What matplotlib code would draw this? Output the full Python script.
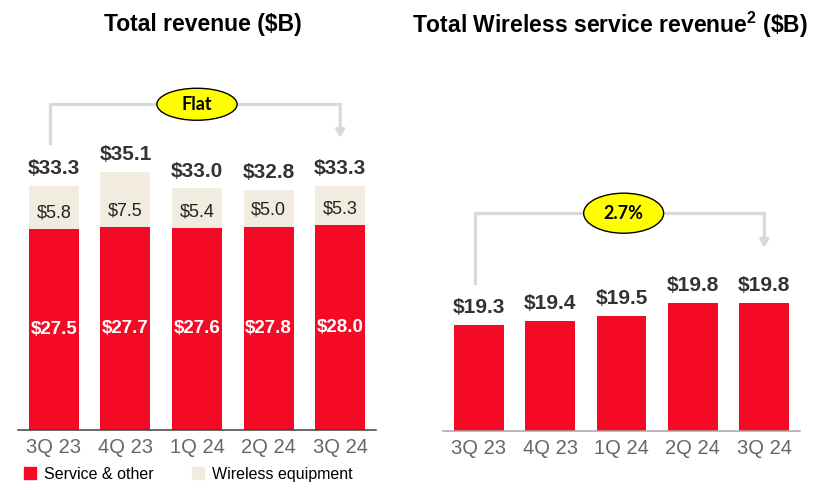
import numpy as np
import matplotlib.pyplot as plt
from matplotlib.patches import Ellipse, Patch

plt.rcParams['font.family'] = ['Liberation Sans', 'DejaVu Sans']
plt.rcParams['mathtext.fontset'] = 'custom'
plt.rcParams['mathtext.rm'] = 'Liberation Sans'
plt.rcParams['mathtext.bf'] = 'Liberation Sans:bold'

# ----- data -----
quarters = ["3Q 23", "4Q 23", "1Q 24", "2Q 24", "3Q 24"]
service = [27.5, 27.7, 27.6, 27.8, 28.0]
equipment = [5.8, 7.5, 5.4, 5.0, 5.3]
total = [33.3, 35.1, 33.0, 32.8, 33.3]
wireless_service = [19.3, 19.4, 19.5, 19.8, 19.8]

red = "#F40A24"
beige = "#F2EBDF"
bracket_grey = "#D9D9D9"

W, H = 821, 490
fig = plt.figure(figsize=(W / 100, H / 100), dpi=100)


def px_axes(x0, y_top, x1, y_base):
    # axes placed by pixel box (y measured from top of image)
    return fig.add_axes([x0 / W, 1 - y_base / H, (x1 - x0) / W, (y_base - y_top) / H])


def style_axes(ax, spine_color):
    for s in ["top", "right", "left"]:
        ax.spines[s].set_visible(False)
    ax.spines["bottom"].set_color(spine_color)
    ax.spines["bottom"].set_linewidth(1.1)
    ax.set_yticks([])
    ax.set_xticks(x)
    ax.set_xticklabels(quarters, fontsize=14.5, color="#666666")
    ax.tick_params(axis="x", length=0, pad=6)
    ax.set_xlim(-0.5, 4.5)


def bracket(ax, y_top, y_left, y_tip, label, ew, eh, ex=2.0):
    ax.plot([-0.05, -0.05, 4, 4], [y_left, y_top, y_top, y_top],
            color=bracket_grey, lw=2.3, solid_joinstyle="miter", clip_on=False, zorder=1)
    ax.annotate("", xy=(4, y_tip), xytext=(4, y_top),
                arrowprops=dict(arrowstyle="-|>,head_length=0.45,head_width=0.25",
                                color=bracket_grey, lw=2.3, shrinkA=0, shrinkB=0),
                annotation_clip=False)
    ax.add_patch(Ellipse((ex, y_top), ew, eh, facecolor="#FFFF00",
                         edgecolor="black", lw=1.0, clip_on=False, zorder=3))
    ax.text(ex, y_top, label, ha="center", va="center", fontsize=13,
            fontweight="bold", family=["Lato", "DejaVu Sans"], zorder=4)


x = np.arange(len(quarters))

# ----- left: total revenue -----
ax1 = px_axes(18, 60, 376, 430)
ax1.set_ylim(0, 370 / 7.32)
ax1.bar(x, service, 0.7, color=red)
ax1.bar(x, equipment, 0.7, bottom=service, color=beige)
for i in x:
    top = service[i] + equipment[i]
    ax1.annotate(f"${total[i]:.1f}", (i, top), xytext=(0, 12.5), textcoords="offset points",
                 ha="center", va="center", fontsize=15, fontweight="bold", color="#333333")
    ax1.annotate(f"${equipment[i]:.1f}", (i, service[i]), xytext=(0, 11.6),
                 textcoords="offset points", ha="center", va="center",
                 fontsize=13, color="#222222")
    ax1.text(i, service[i] / 2, f"${service[i]:.1f}", ha="center", va="center",
             fontsize=13.5, fontweight="bold", color="white")
style_axes(ax1, "#404040")
bracket(ax1, 44.5, 39.2, 39.9, "Flat", 1.12, 4.37)

# ----- right: wireless service revenue -----
ax2 = px_axes(443, 60, 800, 431)
base = 16.95
ax2.set_ylim(base, base + 371 / 45)
ax2.bar(x, np.array(wireless_service) - base, 0.7, bottom=base, color=red)
for i in x:
    ax2.annotate(f"${wireless_service[i]:.1f}", (i, wireless_service[i]), xytext=(0, 12.5),
                 textcoords="offset points", ha="center", va="center",
                 fontsize=15, fontweight="bold", color="#333333")
style_axes(ax2, "#A6A6A6")
bracket(ax2, 21.79, 20.24, 21.02, "2.7%", 1.12, 0.89, ex=2.03)

# ----- titles -----
fig.text(203 / W, 1 - 25 / H, "Total revenue ($B)", ha="center", va="center",
         fontsize=16.5, fontweight="bold")
fig.text(610 / W, 1 - 25 / H, r"Total Wireless service revenue$^{\mathbf{2}}$ (\$B)",
         ha="center", va="center", fontsize=16.5, fontweight="bold")

# ----- legend -----
handles = [Patch(color=red, label="Service & other"),
           Patch(color=beige, label="Wireless equipment")]
fig.legend(handles=handles, loc="center left", bbox_to_anchor=(24 / W, 1 - 474 / H),
           ncol=2, frameon=False, fontsize=11.5, handlelength=0.78, handleheight=0.78,
           handletextpad=0.5, columnspacing=2.35, borderpad=0, borderaxespad=0)

fig.savefig("out.png", dpi=100)
